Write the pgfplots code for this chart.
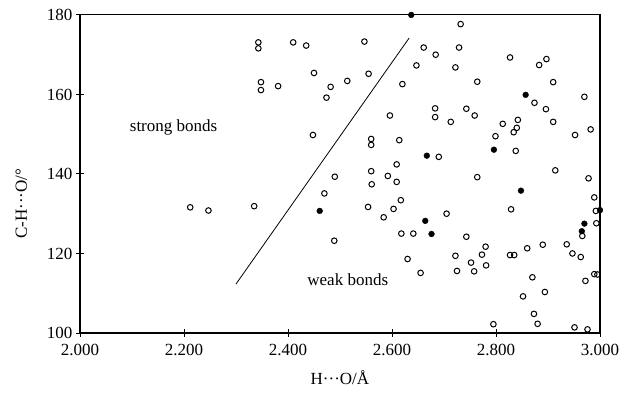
\documentclass[border=0pt]{standalone}
\usepackage{pgfplots}
\pgfplotsset{compat=1.18}
\usepackage{fontspec}
\setmainfont{Liberation Serif}

\pgfplotstableread{
x y
2.212 131.6
2.247 130.8
2.335 131.9
2.343 173.1
2.343 171.6
2.410 173.1
2.435 172.3
2.348 163.1
2.348 161.1
2.381 162.1
2.450 165.4
2.482 161.9
2.474 159.2
2.448 149.8
2.732 177.7
2.547 173.3
2.661 171.8
2.684 170.0
2.729 171.8
2.647 167.3
2.722 166.8
2.514 163.4
2.555 165.2
2.620 162.6
2.683 156.5
2.683 154.3
2.743 156.4
2.713 153.1
2.596 154.7
2.560 148.8
2.560 147.3
2.614 148.5
2.690 144.3
2.560 140.7
2.609 142.4
2.827 169.3
2.883 167.4
2.897 168.9
2.764 163.2
2.910 163.1
2.874 157.9
2.896 156.3
2.970 159.4
2.759 154.7
2.813 152.6
2.842 153.6
2.840 151.6
2.834 150.5
2.910 153.1
2.952 149.8
2.982 151.2
2.799 149.5
2.838 145.8
2.914 140.9
2.490 139.3
2.470 135.1
2.489 123.2
2.592 139.5
2.561 137.4
2.609 138.0
2.617 133.4
2.554 131.7
2.603 131.2
2.584 129.1
2.705 130.0
2.618 125.0
2.641 125.0
2.743 124.2
2.630 118.6
2.722 119.4
2.725 115.6
2.655 115.1
2.764 139.2
2.978 138.9
2.829 131.1
2.989 134.1
2.992 130.7
2.993 127.6
2.966 124.4
2.780 121.7
2.773 119.7
2.752 117.7
2.758 115.5
2.781 117.0
2.827 119.6
2.835 119.6
2.860 121.3
2.890 122.2
2.936 122.3
2.947 120.0
2.963 119.1
2.989 114.8
2.995 114.7
2.972 113.1
2.870 114.0
2.894 110.3
2.852 109.2
2.873 104.8
2.880 102.3
2.795 102.2
2.951 101.4
2.976 100.9
}\opendata

\pgfplotstableread{
x y
2.637 180.0
2.857 159.9
2.796 146.1
2.667 144.6
2.848 135.8
2.461 130.7
2.664 128.2
2.676 124.9
3.000 130.9
2.970 127.5
2.965 125.6
}\filleddata

\begin{document}
\begin{tikzpicture}
\begin{axis}[
    scale only axis,
    width=520pt, height=318pt,
    xmin=2, xmax=3, ymin=100, ymax=180,
    xtick={2,2.2,...,3.01},
    ytick={100,120,...,180},
    xtick pos=bottom, ytick pos=left,
    tick align=center,
    major tick length=8pt,
    axis line style={line width=1.1pt},
    tick style={line width=0.9pt, black},
    x tick label style={yshift=-4pt, /pgf/number format/.cd, fixed, fixed zerofill, precision=3},
    /pgf/number format/assume math mode=true,
    tick label style={font=\fontsize{17}{20}\selectfont},
    label style={font=\fontsize{17}{20}\selectfont},
    xlabel={H···O/Å},
    ylabel={C-H···O/°},
    xlabel style={at={(axis description cs:0.5,-0.142)}, anchor=center},
    ylabel style={at={(axis description cs:-0.113,0.406)}, anchor=center},
    clip=false,
]
\addplot[only marks, mark=o, mark size=2.8pt, mark options={line width=1pt, black}] table {\opendata};
\addplot[only marks, mark=*, mark size=2.9pt, mark options={black, fill=black}] table {\filleddata};
\addplot[black, line width=0.8pt] coordinates {(2.300,112.3) (2.633,174.2)};
\node[font=\fontsize{17}{20}\selectfont] at (axis cs:2.18,151.6) {strong bonds};
\node[font=\fontsize{17}{20}\selectfont] at (axis cs:2.515,113.3) {weak bonds};
\path (rel axis cs:-0.1538,-0.217) rectangle (rel axis cs:1.05,1.047);
\end{axis}
\end{tikzpicture}
\end{document}
